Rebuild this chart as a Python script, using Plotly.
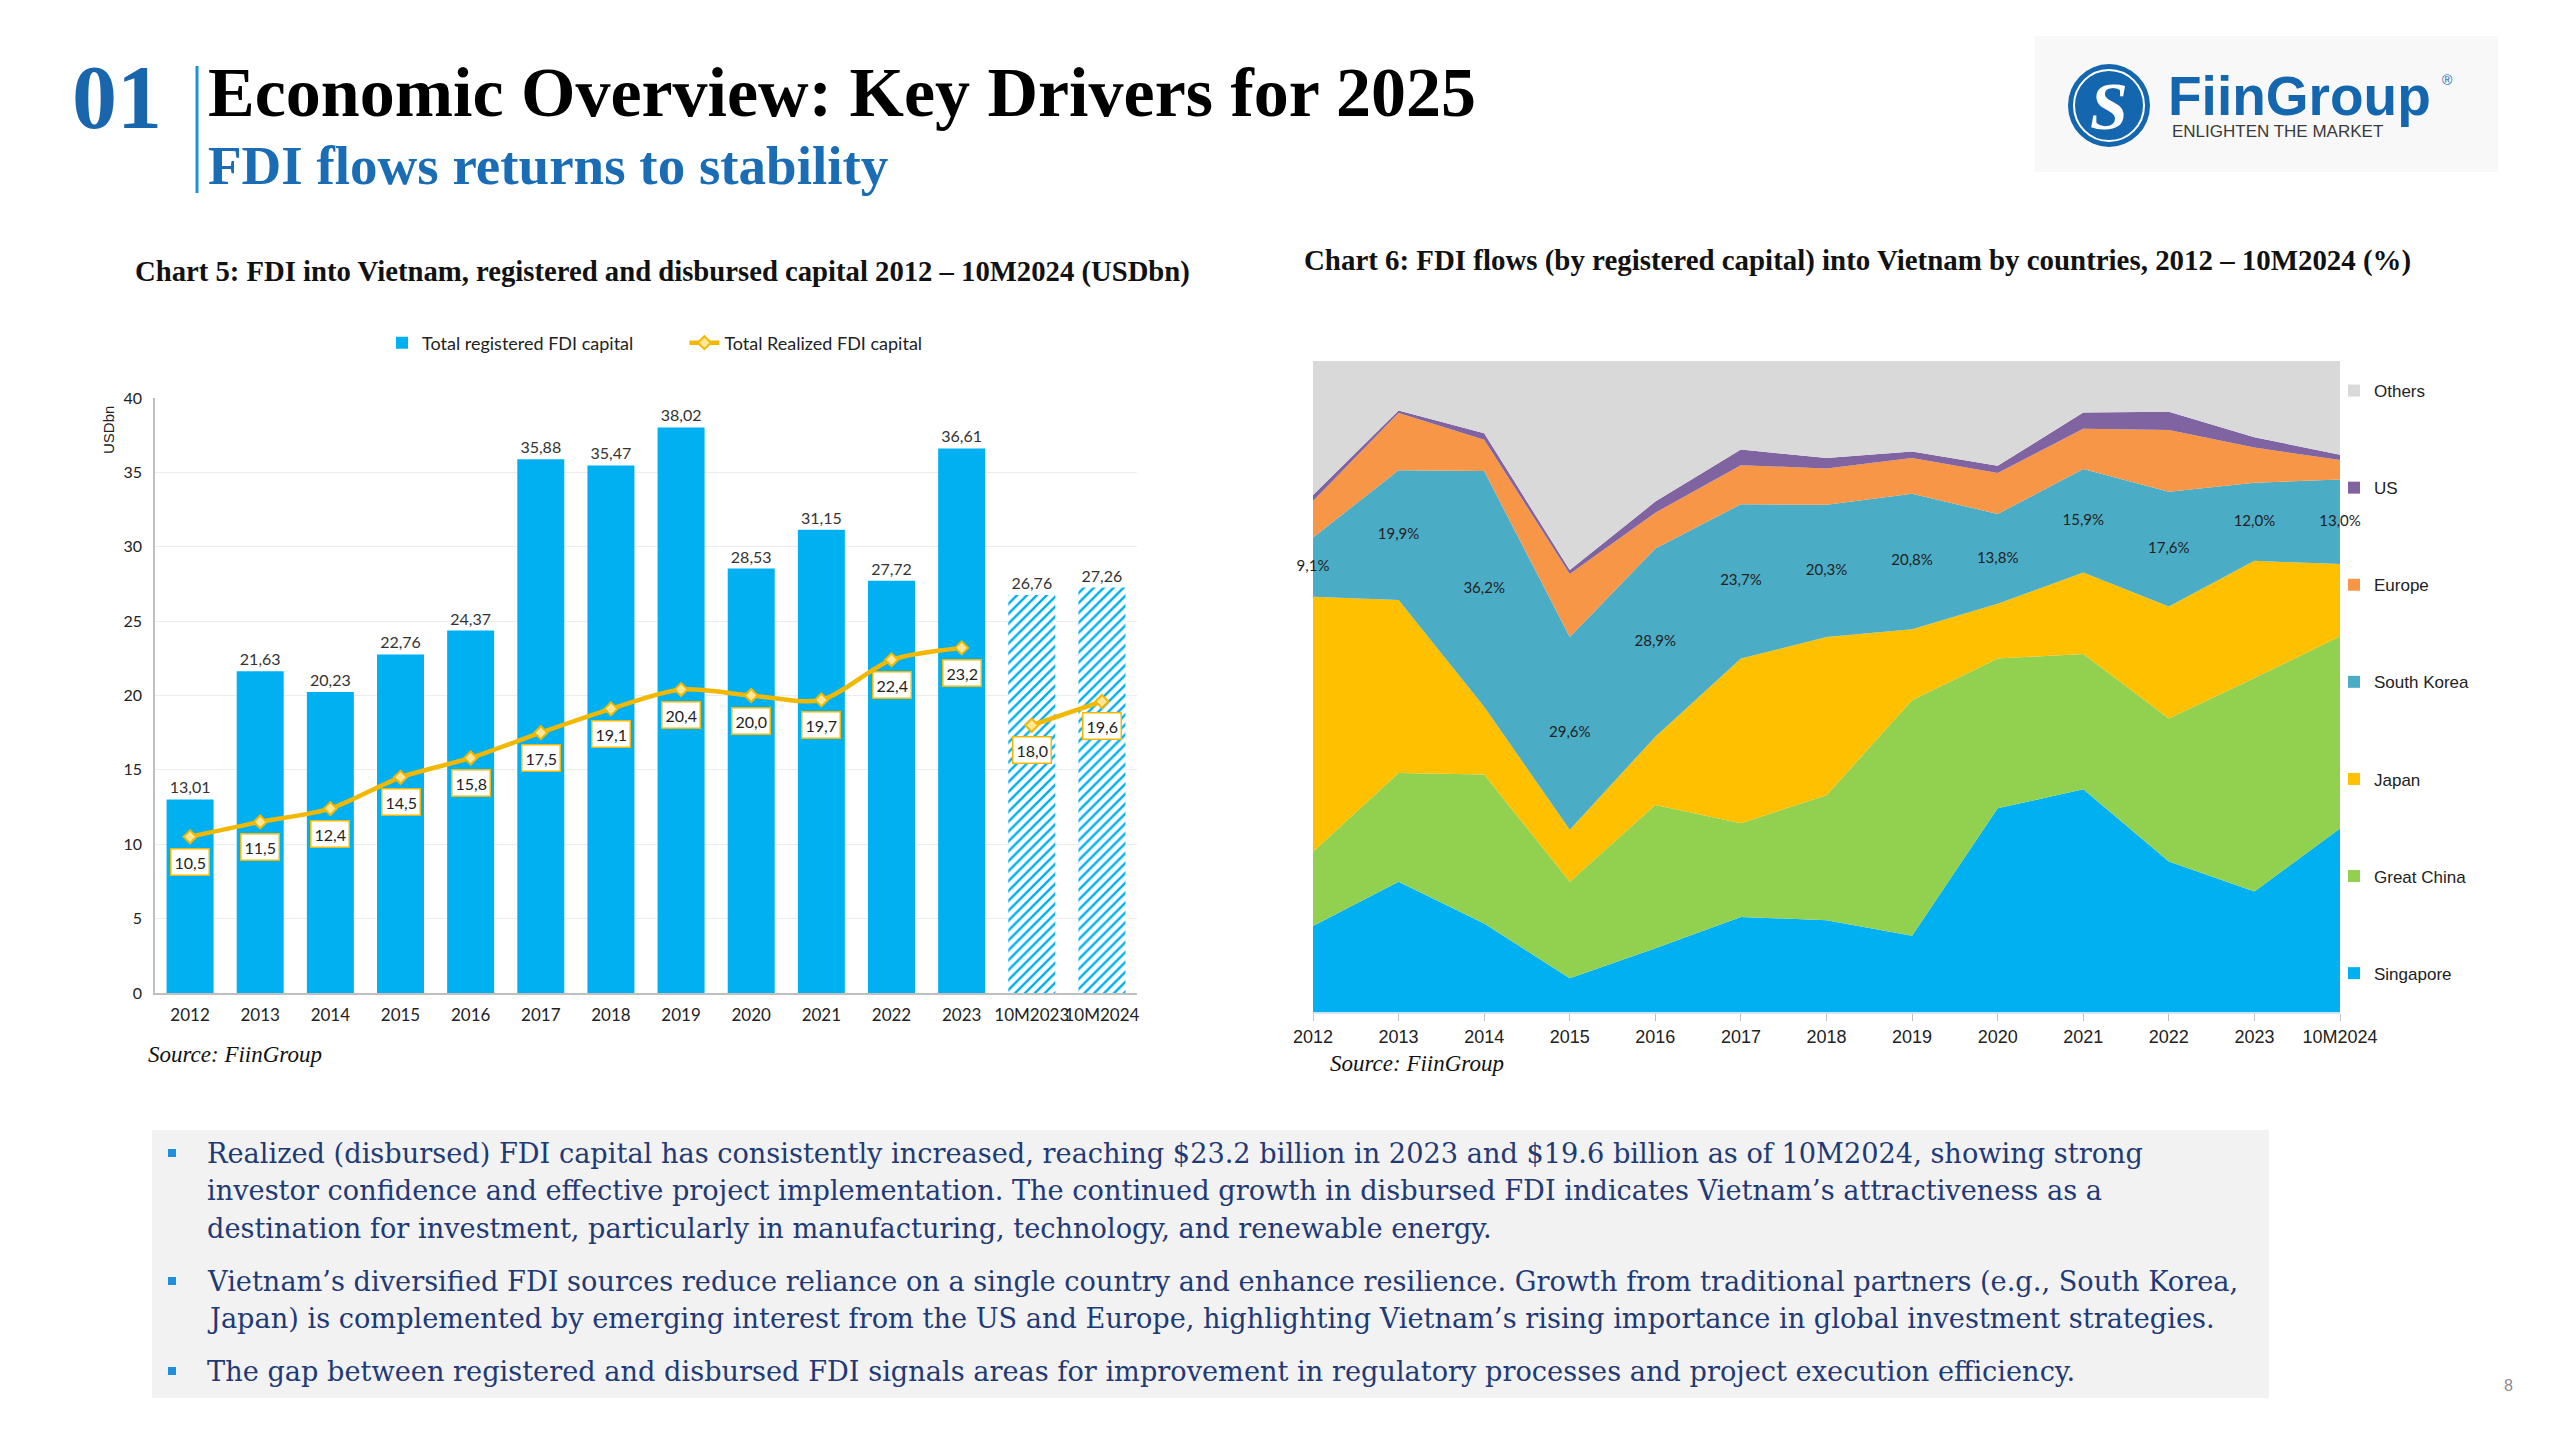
import plotly.graph_objects as go

W, H = 2560, 1440

# ---------------- Chart 5 data ----------------
cats5 = ["2012", "2013", "2014", "2015", "2016", "2017", "2018", "2019", "2020",
         "2021", "2022", "2023", "10M2023", "10M2024"]
registered = [13.01, 21.63, 20.23, 22.76, 24.37, 35.88, 35.47, 38.02, 28.53,
              31.15, 27.72, 36.61, 26.76, 27.26]
realized_cats = ["2012", "2013", "2014", "2015", "2016", "2017", "2018", "2019",
                 "2020", "2021", "2022", "2023"]
realized = [10.5, 11.5, 12.4, 14.5, 15.8, 17.5, 19.1, 20.4, 20.0, 19.7, 22.4, 23.2]
realized_10m_cats = ["10M2023", "10M2024"]
realized_10m = [18.0, 19.6]

# ---------------- Chart 6 data (% of registered capital) ----------------
cats6 = ["2012", "2013", "2014", "2015", "2016", "2017", "2018", "2019", "2020",
         "2021", "2022", "2023", "10M2024"]
singapore = [13.2, 20.0, 13.6, 5.2, 9.8, 14.6, 14.1, 11.7, 31.3, 34.2, 23.1, 18.5, 28.2]
great_china = [11.4, 16.7, 22.9, 14.8, 22.0, 14.4, 19.2, 36.2, 23.0, 20.8, 22.0, 32.8, 29.5]
japan = [39.2, 26.6, 10.4, 8.0, 10.5, 25.3, 24.3, 10.9, 8.4, 12.5, 17.2, 18.0, 11.1]
south_korea = [9.1, 19.9, 36.2, 29.6, 28.9, 23.7, 20.3, 20.8, 13.8, 15.9, 17.6, 12.0, 13.0]
europe = [5.6, 8.8, 4.8, 9.7, 5.5, 6.0, 5.6, 5.5, 6.3, 6.2, 9.5, 5.4, 3.0]
us = [0.9, 0.4, 1.0, 0.6, 1.7, 2.4, 1.6, 1.0, 1.1, 2.5, 2.8, 1.6, 0.8]
others = [20.6, 7.6, 11.1, 32.1, 21.6, 13.6, 14.9, 13.9, 16.1, 7.9, 7.8, 11.7, 14.4]

series6 = [
    ("Singapore", singapore, "#00B0F0"),
    ("Great China", great_china, "#92D050"),
    ("Japan", japan, "#FFC000"),
    ("South Korea", south_korea, "#4BACC6"),
    ("Europe", europe, "#F79646"),
    ("US", us, "#8064A2"),
    ("Others", others, "#D9D9D9"),
]


def fx(p):
    return p / W


def fy(p):
    return 1 - p / H


def comma(v, nd):
    return f"{v:.{nd}f}".replace(".", ",")


BAR_BLUE = "#00B0F0"
GOLD = "#F2B800"
SANS_C = "Lato"
SANS = "Liberation Sans"
SERIF = "Liberation Serif"
BODY_SERIF = "DejaVu Serif"
NBSP_GAP = "\u00a0" * 10

fig = go.Figure()

# ---- Chart 5 bars ----
is_10m = [c.startswith("10M") for c in cats5]
fig.add_trace(go.Bar(
    x=cats5, y=registered, name="Total registered FDI capital" + NBSP_GAP,
    marker=dict(
        color=BAR_BLUE,
        line=dict(width=0),
        pattern=dict(shape=["/" if h else "" for h in is_10m],
                     fgcolor=BAR_BLUE, bgcolor="white", fillmode="replace",
                     size=7, solidity=0.35),
    ),
    text=[comma(v, 2) for v in registered], textposition="outside",
    textfont=dict(family=SANS_C, size=16, color="#333333"),
    cliponaxis=False, xaxis="x", yaxis="y", legend="legend", legendrank=1,
    hoverinfo="skip",
))

# ---- Chart 5 realized line ----
line_style = dict(color=GOLD, width=4.5, shape="spline", smoothing=0.8)
marker_style = dict(symbol="diamond", size=10, color="#FFE79A", line=dict(color=GOLD, width=2))
fig.add_trace(go.Scatter(
    x=realized_cats, y=realized, name="Total Realized FDI capital",
    mode="lines+markers", line=line_style, marker=marker_style,
    xaxis="x", yaxis="y", legend="legend", legendrank=2, hoverinfo="skip",
))
fig.add_trace(go.Scatter(
    x=realized_10m_cats, y=realized_10m, name="Total Realized FDI capital",
    mode="lines+markers", showlegend=False, line=line_style, marker=marker_style,
    xaxis="x", yaxis="y", hoverinfo="skip",
))

annotations = []
for c, v in list(zip(realized_cats, realized)) + list(zip(realized_10m_cats, realized_10m)):
    annotations.append(dict(
        x=cats5.index(c), y=v, xref="x", yref="y", text=comma(v, 1), showarrow=False,
        yshift=-25, bgcolor="white", bordercolor=GOLD, borderwidth=1.5,
        borderpad=3, font=dict(family=SANS_C, size=16, color="#222222"),
    ))

# ---- Chart 6 stacked areas ----
for rank, (name, vals, col) in enumerate(series6):
    fig.add_trace(go.Scatter(
        x=cats6, y=vals, name=name, mode="lines", stackgroup="one",
        groupnorm="percent", fillcolor=col, line=dict(width=0, color=col),
        xaxis="x2", yaxis="y2", showlegend=False, legendgroup=name,
        hoverinfo="skip",
    ))
    # legend entry (square swatch), no data drawn
    fig.add_trace(go.Scatter(
        x=[None], y=[None], name=name, mode="markers",
        marker=dict(symbol="square", size=12, color=col),
        xaxis="x2", yaxis="y2", legend="legend2", legendgroup=name,
        legendrank=100 - rank, hoverinfo="skip",
    ))

# South Korea share labels in the middle of its band
korea_mid = [s + g + j + k / 2 for s, g, j, k in zip(singapore, great_china, japan, south_korea)]
fig.add_trace(go.Scatter(
    x=cats6, y=korea_mid, mode="text", text=[comma(k, 1) + "%" for k in south_korea],
    textfont=dict(family=SANS_C, size=15, color="#222222"),
    showlegend=False, cliponaxis=False, xaxis="x2", yaxis="y2", hoverinfo="skip",
))

# ---------------- Text / decoration ----------------
shapes = []
shapes.append(dict(type="line", xref="paper", yref="paper", x0=fx(197), x1=fx(197),
                   y0=fy(66), y1=fy(193), line=dict(color="#1E8FD8", width=3)))
shapes.append(dict(type="rect", xref="paper", yref="paper", x0=fx(2035), x1=fx(2498),
                   y0=fy(172), y1=fy(36), fillcolor="#F8F8F8", line=dict(width=0), layer="below"))
shapes.append(dict(type="circle", xref="paper", yref="paper", x0=fx(2068), x1=fx(2150),
                   y0=fy(147), y1=fy(64), fillcolor="#1466AE", line=dict(width=0)))
shapes.append(dict(type="circle", xref="paper", yref="paper", x0=fx(2074), x1=fx(2144),
                   y0=fy(141), y1=fy(70), fillcolor="rgba(0,0,0,0)",
                   line=dict(color="white", width=2)))
shapes.append(dict(type="rect", xref="paper", yref="paper", x0=fx(152), x1=fx(2269),
                   y0=fy(1398), y1=fy(1130), fillcolor="#F2F2F2", line=dict(width=0), layer="below"))

annotations += [
    dict(x=fx(70), y=fy(98), xref="paper", yref="paper", xanchor="left", yanchor="middle",
         text="<b>01</b>", showarrow=False,
         font=dict(family=SERIF, size=90, color="#1A66AD")),
    dict(x=fx(206), y=fy(93), xref="paper", yref="paper", xanchor="left", yanchor="middle",
         text="<b>Economic Overview: Key Drivers for 2025</b>", showarrow=False,
         font=dict(family=SERIF, size=70, color="#000000")),
    dict(x=fx(206), y=fy(165), xref="paper", yref="paper", xanchor="left", yanchor="middle",
         text="<b>FDI flows returns to stability</b>", showarrow=False,
         font=dict(family=SERIF, size=55, color="#1A6DB5")),
    # logo texts
    dict(x=fx(2109), y=fy(106), xref="paper", yref="paper", xanchor="center", yanchor="middle",
         text="<b><i>S</i></b>", showarrow=False,
         font=dict(family=SERIF, size=68, color="white")),
    dict(x=fx(2166), y=fy(96), xref="paper", yref="paper", xanchor="left", yanchor="middle",
         text="<b>FiinGroup</b>", showarrow=False,
         font=dict(family=SANS, size=55, color="#1466AE")),
    dict(x=fx(2447), y=fy(80), xref="paper", yref="paper", xanchor="center", yanchor="middle",
         text="®", showarrow=False, font=dict(family=SANS, size=14, color="#1466AE")),
    dict(x=fx(2170), y=fy(131), xref="paper", yref="paper", xanchor="left", yanchor="middle",
         text="ENLIGHTEN THE MARKET", showarrow=False,
         font=dict(family=SANS, size=17, color="#3A3A3A")),
    # chart titles
    dict(x=fx(133), y=fy(271), xref="paper", yref="paper", xanchor="left", yanchor="middle",
         text="<b>Chart 5: FDI into Vietnam, registered and disbursed capital 2012 – 10M2024 (USDbn)</b>",
         showarrow=False, font=dict(family=SERIF, size=28.7, color="#111111")),
    dict(x=fx(1302), y=fy(260), xref="paper", yref="paper", xanchor="left", yanchor="middle",
         text="<b>Chart 6: FDI flows (by registered capital) into Vietnam by countries, 2012 – 10M2024 (%)</b>",
         showarrow=False, font=dict(family=SERIF, size=28.9, color="#111111")),
    # y axis label chart 5
    dict(x=fx(108), y=fy(430), xref="paper", yref="paper", xanchor="center", yanchor="middle",
         text="USDbn", textangle=-90, showarrow=False,
         font=dict(family=SANS, size=15, color="#222222")),
    # sources
    dict(x=fx(146), y=fy(1054), xref="paper", yref="paper", xanchor="left", yanchor="middle",
         text="<i>Source: FiinGroup</i>", showarrow=False,
         font=dict(family=SERIF, size=23, color="#111111")),
    dict(x=fx(1328), y=fy(1063), xref="paper", yref="paper", xanchor="left", yanchor="middle",
         text="<i>Source: FiinGroup</i>", showarrow=False,
         font=dict(family=SERIF, size=23, color="#111111")),
    # page number
    dict(x=fx(2508), y=fy(1385), xref="paper", yref="paper", xanchor="center", yanchor="middle",
         text="8", showarrow=False, font=dict(family=SANS, size=16, color="#8C8C8C")),
]

body_lines = [
    (1153, True, "Realized (disbursed) FDI capital has consistently increased, reaching $23.2 billion in 2023 and $19.6 billion as of 10M2024, showing strong"),
    (1190, False, "investor confidence and effective project implementation. The continued growth in disbursed FDI indicates Vietnam’s attractiveness as a"),
    (1228, False, "destination for investment, particularly in manufacturing, technology, and renewable energy."),
    (1281, True, "Vietnam’s diversified FDI sources reduce reliance on a single country and enhance resilience. Growth from traditional partners (e.g., South Korea,"),
    (1318, False, "Japan) is complemented by emerging interest from the US and Europe, highlighting Vietnam’s rising importance in global investment strategies."),
    (1371, True, "The gap between registered and disbursed FDI signals areas for improvement in regulatory processes and project execution efficiency."),
]
for yy, bullet, txt in body_lines:
    annotations.append(dict(x=fx(205), y=fy(yy), xref="paper", yref="paper", xanchor="left",
                            yanchor="middle", text=txt, showarrow=False,
                            font=dict(family=BODY_SERIF, size=27.2, color="#1F3A75")))
    if bullet:
        shapes.append(dict(type="rect", xref="paper", yref="paper", x0=fx(168), x1=fx(176),
                           y0=fy(yy + 4), y1=fy(yy - 4), fillcolor="#1E8FD8", line=dict(width=0)))

fig.update_layout(
    width=W, height=H, margin=dict(l=0, r=0, t=0, b=0, autoexpand=False),
    paper_bgcolor="white", plot_bgcolor="white",
    bargap=0.33, showlegend=True,
    xaxis=dict(domain=[fx(155), fx(1137)], anchor="y", type="category",
               range=[-0.5, 13.5], showline=True, linecolor="#BFBFBF", linewidth=2,
               ticks="", showgrid=False, fixedrange=True, tickangle=0, automargin=False,
               ticklabelstandoff=6,
               tickfont=dict(family=SANS_C, size=17, color="#222222")),
    yaxis=dict(domain=[fy(993), fy(398)], anchor="x", range=[0, 40], dtick=5,
               showgrid=True, gridcolor="#ECECEC", gridwidth=1, zeroline=False,
               showline=True, linecolor="#BFBFBF", linewidth=1.5, ticks="", automargin=False,
               ticklabelstandoff=8,
               tickfont=dict(family=SANS_C, size=16, color="#222222"), fixedrange=True),
    xaxis2=dict(domain=[fx(1313), fx(2340)], anchor="y2", type="category",
                range=[0, 12], showline=True, linecolor="#CFE3F0", linewidth=2,
                ticks="outside", ticklen=7, tickcolor="#BFBFBF", showgrid=False,
                tickangle=0, automargin=False,
                tickfont=dict(family=SANS, size=18, color="#222222"), fixedrange=True),
    yaxis2=dict(domain=[fy(1012), fy(361)], anchor="x2", range=[0, 100],
                visible=False, fixedrange=True, automargin=False),
    legend=dict(orientation="h", x=fx(655), xanchor="center", y=fy(343), yanchor="middle",
                traceorder="normal",
                font=dict(family=SANS_C, size=18, color="#222222"),
                bgcolor="rgba(0,0,0,0)"),
    legend2=dict(orientation="v", x=fx(2334), xanchor="left", y=fy(373), yanchor="top",
                 traceorder="grouped", tracegroupgap=72, itemwidth=30,
                 font=dict(family=SANS, size=17, color="#222222"),
                 bgcolor="rgba(0,0,0,0)"),
    annotations=annotations, shapes=shapes,
)

fig.write_html("out.html", post_script="document.body.style.margin='0';")
